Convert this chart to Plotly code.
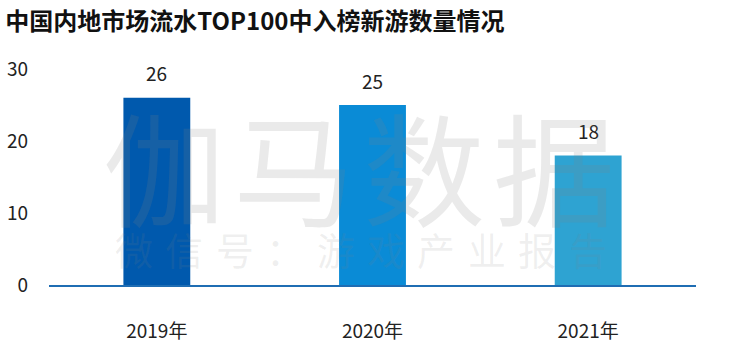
import plotly.graph_objects as go

categories = ["2019年", "2020年", "2021年"]
values = [26, 25, 18]
colors = ["#0059ad", "#0a8bd6", "#2ea3d2"]
title_text = "中国内地市场流水TOP100中入榜新游数量情况"
y_ticks = [0, 10, 20, 30]
watermark_big = "伽马数据"
watermark_small = "微信号：游戏产业报告"

FONT = "Noto Sans CJK SC"
W, H = 750, 349
ml, mr, mt, mb = 49, 54, 69, 64
pw, ph = W - ml - mr, H - mt - mb


def px_to_paper(xp, yp):
    return (xp - ml) / pw, (H - yp - mb) / ph


fig = go.Figure()
fig.add_trace(go.Bar(
    x=categories, y=values, marker=dict(color=colors, line=dict(width=0)),
    width=0.31, hoverinfo="skip",
))

annotations = []
for c, v in zip(categories, values):
    annotations.append(dict(x=c, y=v, xref="x", yref="y", text=str(v), showarrow=False,
                            yshift=25, font=dict(family=FONT, size=19, color="#222222")))

# watermark (each glyph placed separately to mimic the wide letter spacing)
for i, ch in enumerate(watermark_big):
    xp, yp = px_to_paper(164 + 130 * i, 163)
    annotations.append(dict(x=xp, y=yp, xref="paper", yref="paper", text=ch, showarrow=False,
                            xanchor="center", yanchor="middle",
                            font=dict(family=FONT, size=122, color="rgba(130,130,130,0.17)")))
for i, ch in enumerate(watermark_small):
    xp, yp = px_to_paper(134 + 50.4 * i, 248)
    annotations.append(dict(x=xp, y=yp, xref="paper", yref="paper", text=ch, showarrow=False,
                            xanchor="center", yanchor="middle",
                            font=dict(family=FONT, size=38, color="rgba(130,130,130,0.13)")))

fig.update_layout(
    width=W, height=H,
    margin=dict(l=ml, r=mr, t=mt, b=mb, pad=0, autoexpand=False),
    paper_bgcolor="white", plot_bgcolor="white",
    showlegend=False,
    title=dict(text=title_text, x=0.007, xanchor="left", y=1 - 22 / H, yanchor="middle",
               font=dict(family=FONT, size=24, color="#111111", weight="bold")),
    annotations=annotations,
)
fig.update_xaxes(showline=True, linecolor="#1f6db3", linewidth=1.5, ticks="",
                 tickfont=dict(family=FONT, size=19, color="#222222"), ticklabelstandoff=28,
                 showgrid=False, zeroline=False, automargin=False)
fig.update_yaxes(range=[0, 30], tickvals=y_ticks, showgrid=False, zeroline=False, showline=False,
                 ticks="", tickfont=dict(family=FONT, size=19, color="#222222"),
                 ticklabelstandoff=20, automargin=False)

fig.write_html("out.html")
